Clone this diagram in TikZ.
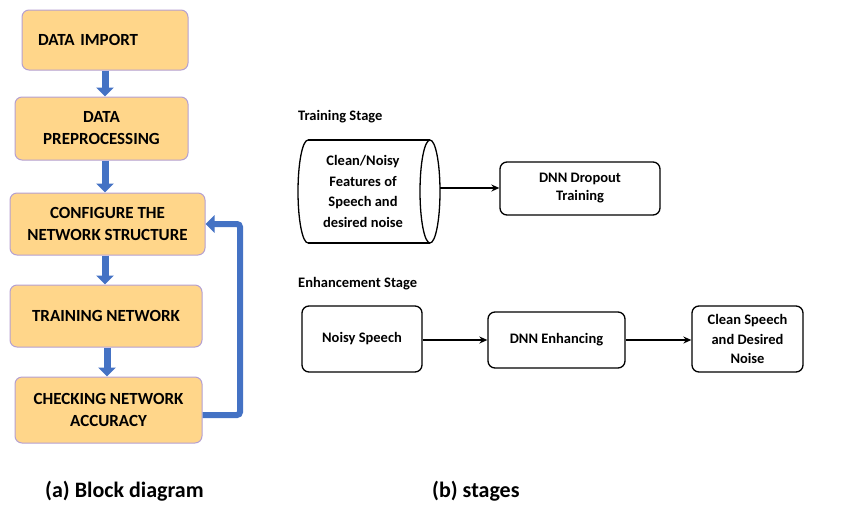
\documentclass[tikz,border=0pt]{standalone}
\usepackage{fontspec}
\setmainfont{Carlito}
\usetikzlibrary{arrows.meta,positioning}
\definecolor{boxfill}{RGB}{255,214,138}
\definecolor{boxline}{RGB}{180,160,210}
\definecolor{flowblue}{RGB}{68,114,196}
\tikzset{
  flowbox/.style={draw=boxline, line width=1pt, fill=boxfill, rounded corners=7pt,
    font=\bfseries\fontsize{17}{22}\selectfont, align=center, inner sep=2pt},
  stagebox/.style={draw=black, line width=1.3pt, rounded corners=7pt,
    font=\bfseries\fontsize{14.5}{18}\selectfont, align=center, inner sep=2pt},
  blockarrow/.style={draw=flowblue, line width=7pt, -{Triangle[width=17pt,length=9pt]}},
  thinarrow/.style={draw=black, line width=1.3pt, -{Stealth[length=8pt,width=7pt]}},
  stagelabel/.style={font=\bfseries\fontsize{14.5}{17}\selectfont, anchor=west, inner sep=0pt},
  caption/.style={font=\bfseries\fontsize{22}{26}\selectfont, anchor=west, inner sep=0pt}
}
\begin{document}
\begin{tikzpicture}[x=1pt,y=-1pt]
\useasboundingbox (0,0) rectangle (843,504);
% left flow
\node[flowbox, minimum height=60pt, text width=134pt, inner xsep=16pt, align=left] (imp) at (105,40) {DATA IMPORT};
\node[flowbox, minimum width=173pt, minimum height=63pt] (pre) at (101.5,128.5) {DATA\\PREPROCESSING};
\node[flowbox, minimum width=195pt, minimum height=62pt] (cfg) at (107.5,224) {CONFIGURE THE\\NETWORK STRUCTURE};
\node[flowbox, minimum width=192pt, minimum height=62pt] (trn) at (106,316) {TRAINING NETWORK};
\node[flowbox, minimum width=187pt, minimum height=66pt] (chk) at (108.5,410) {CHECKING NETWORK\\ACCURACY};
\draw[blockarrow] (imp.south -| 105,0) -- (pre.north -| 105,0);
\draw[blockarrow] (pre.south -| 105,0) -- (cfg.north -| 105,0);
\draw[blockarrow] (cfg.south -| 105,0) -- (trn.north -| 105,0);
\draw[blockarrow] (trn.south -| 107,0) -- (chk.north -| 107,0);
\coordinate (fb1) at (240,415);
\coordinate (fb2) at (240,224);
\draw[draw=flowblue, line width=6pt, rounded corners=3pt, -{Triangle[width=17pt,length=9pt]}]
  (chk.east |- fb1) -- (fb1) -- (fb2) -- (cfg.east);
\node[caption] (capa) at (45,491) {(a) Block diagram};
% training stage
\node[stagelabel] (tslab) at (298,117) {Training Stage};
\node[font=\bfseries\fontsize{14.5}{20.5}\selectfont, align=center, minimum width=122pt, minimum height=103pt, inner sep=0pt] (cyl) at (363,191.5) {Clean/Noisy\\Features of\\Speech and\\desired noise};
\draw[line width=1.3pt] (308,140) -- (430,140);
\draw[line width=1.3pt] (308,243) -- (430,243);
\draw[line width=1.3pt] (308,140) arc[start angle=270, end angle=90, x radius=10, y radius=51.5];
\draw[line width=1.3pt] (430,191.5) ellipse[x radius=10, y radius=51.5];
\coordinate (cylout) at (440,188);
\node[stagebox, minimum width=160pt, minimum height=53pt] (dnd) at (580,188.5) {DNN Dropout\\Training};
\draw[thinarrow] (cylout) -- (dnd.west |- cylout);
% enhancement stage
\node[stagelabel] (eslab) at (298,284) {Enhancement Stage};
\node[stagebox, minimum width=120pt, minimum height=66pt] (noisy) at (362,339) {Noisy Speech};
\node[stagebox, minimum width=137pt, minimum height=56pt] (dnne) at (556.5,340) {DNN Enhancing};
\node[stagebox, minimum width=111pt, minimum height=66pt, font=\bfseries\fontsize{14.5}{19.5}\selectfont] (clean) at (747.5,339) {Clean Speech\\and Desired\\Noise};
\draw[thinarrow] (noisy.east |- 0,340) -- (dnne.west |- 0,340);
\draw[thinarrow] (dnne.east |- 0,340) -- (clean.west |- 0,340);
\node[caption] (capb) at (432,491) {(b) stages};
\end{tikzpicture}
\end{document}
